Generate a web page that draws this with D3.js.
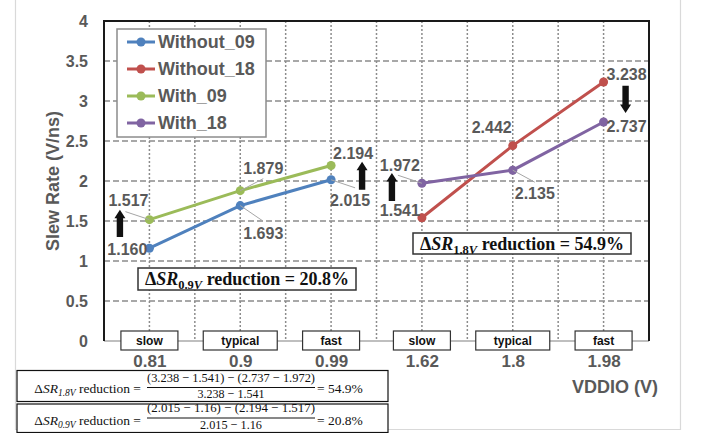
<!DOCTYPE html>
<html>
<head>
<meta charset="utf-8">
<script src="https://cdn.jsdelivr.net/npm/d3@7"></script>
<style>
  body { margin: 0; background: #fff; }
  svg { display: block; }
</style>
</head>
<body>
<svg id="chart" width="702" height="433"></svg>
<script>
// ---- data ----
const vddio = ["0.81", "0.9", "0.99", "1.62", "1.8", "1.98"];
const corners = ["slow", "typical", "fast", "slow", "typical", "fast"];
const yTicks = [0, 0.5, 1, 1.5, 2, 2.5, 3, 3.5, 4];
const supply09 = ["0.81", "0.9", "0.99"];
const supply18 = ["1.62", "1.8", "1.98"];
const without09 = [1.160, 1.693, 2.015];
const with09 = [1.517, 1.879, 2.194];
const without18 = [1.541, 2.442, 3.238];
const with18 = [1.972, 2.135, 2.737];
const seriesNames = ["Without_09", "Without_18", "With_09", "With_18"];

// ---- styling ----
const colors = {
  "Without_09": "#4F81BD",
  "Without_18": "#C0504D",
  "With_09": "#9BBB59",
  "With_18": "#8064A2"
};
// label placement around each point: offset, anchor, optional leader end
const labelPlacement = {
  "Without_09": [
    { dx: -2, dy: 1, anchor: "end" },
    { dx: 3, dy: 28, anchor: "start", leader: [22, 15] },
    { dx: -1, dy: 20, anchor: "start", leader: [24, 8] }
  ],
  "With_09": [
    { dx: -21, dy: -19, anchor: "middle", leader: [-24, -8] },
    { dx: 3, dy: -22, anchor: "start", leader: [23, -12] },
    { dx: 2, dy: -12, anchor: "start" }
  ],
  "Without_18": [
    { dx: -2, dy: -7, anchor: "end" },
    { dx: -1, dy: -18, anchor: "end" },
    { dx: 3, dy: -8, anchor: "start" }
  ],
  "With_18": [
    { dx: -2, dy: -18, anchor: "end", leader: [-24, -8] },
    { dx: 2, dy: 23, anchor: "start", leader: [22, 12] },
    { dx: 3, dy: 4, anchor: "start" }
  ]
};

const series = [
  { name: "Without_09", cats: supply09, values: without09 },
  { name: "Without_18", cats: supply18, values: without18 },
  { name: "With_09", cats: supply09, values: with09 },
  { name: "With_18", cats: supply18, values: with18 }
];

const svg = d3.select("#chart");
const plot = { left: 104, right: 649, top: 21, bottom: 341 };
const gray = "#595959";
const sans = "'Liberation Sans', Arial, sans-serif";
const serif = "'Liberation Serif', 'Times New Roman', serif";

const x = d3.scalePoint().domain(vddio).range([plot.left, plot.right]).padding(0.5);
const y = d3.scaleLinear().domain([0, 4]).range([plot.bottom, plot.top]);
const step = x.step();

// outer page border
svg.append("path")
  .attr("d", "M15.5,0 V429.5 H680.5 V0")
  .attr("fill", "none").attr("stroke", "#d9d9d9").attr("stroke-width", 1.2);

// ---- grid ----
const grid = svg.append("g");
grid.selectAll("line.h")
  .data(yTicks.filter(v => v > 0 && v < 4))
  .join("line")
  .attr("x1", plot.left).attr("x2", plot.right)
  .attr("y1", d => y(d)).attr("y2", d => y(d))
  .attr("stroke", "#8c8c8c").attr("stroke-width", 1.4)
  .attr("stroke-dasharray", "6,3");

const vLines = [];
vddio.forEach((c, i) => {
  vLines.push(x(c));
  if (i < vddio.length - 1) vLines.push(x(c) + step / 2);
});
grid.selectAll("line.v")
  .data(vLines)
  .join("line")
  .attr("x1", d => d).attr("x2", d => d)
  .attr("y1", plot.top).attr("y2", plot.bottom)
  .attr("stroke", "#8c8c8c").attr("stroke-width", 1.5)
  .attr("stroke-dasharray", "2,2");

// x baseline
svg.append("line")
  .attr("x1", plot.left).attr("x2", plot.right)
  .attr("y1", plot.bottom).attr("y2", plot.bottom)
  .attr("stroke", "#bfbfbf").attr("stroke-width", 2);

// frame
svg.append("path")
  .attr("d", `M${plot.left},${plot.bottom} V${plot.top} H${plot.right} V${plot.bottom}`)
  .attr("fill", "none").attr("stroke", "#1a1a1a").attr("stroke-width", 2);

// ---- axes ----
const yAxis = svg.append("g")
  .attr("transform", `translate(${plot.left},0)`)
  .call(d3.axisLeft(y).tickValues(yTicks).tickFormat(d3.format("~g")).tickSize(0).tickPadding(16));
yAxis.select(".domain").remove();
yAxis.selectAll("text")
  .attr("fill", gray).attr("font-family", sans).attr("font-weight", "bold").attr("font-size", 16);

const xAxis = svg.append("g")
  .attr("transform", `translate(0,${plot.bottom})`)
  .call(d3.axisBottom(x).tickSize(0).tickPadding(14));
xAxis.select(".domain").remove();
xAxis.selectAll("text")
  .attr("fill", gray).attr("font-family", sans).attr("font-weight", "bold").attr("font-size", 17);

svg.append("text")
  .attr("transform", `translate(59,${(plot.top + plot.bottom) / 2}) rotate(-90)`)
  .attr("text-anchor", "middle")
  .attr("fill", gray).attr("font-family", sans).attr("font-weight", "bold").attr("font-size", 18)
  .text("Slew Rate (V/ns)");

svg.append("text")
  .attr("x", 615).attr("y", 393)
  .attr("text-anchor", "middle")
  .attr("fill", gray).attr("font-family", sans).attr("font-weight", "bold").attr("font-size", 18)
  .text("VDDIO (V)");

// ---- series lines & markers ----
const line = d3.line().x(d => x(d.c)).y(d => y(d.v));
series.forEach(s => {
  const pts = s.values.map((v, i) => ({ c: s.cats[i], v }));
  const g = svg.append("g");
  g.append("path").datum(pts)
    .attr("d", line).attr("fill", "none")
    .attr("stroke", colors[s.name]).attr("stroke-width", 3);
  g.selectAll("circle").data(pts).join("circle")
    .attr("cx", d => x(d.c)).attr("cy", d => y(d.v)).attr("r", 4.5)
    .attr("fill", colors[s.name]);
});

// ---- data labels ----
const fmt3 = d3.format(".3f");
series.forEach(s => {
  s.values.forEach((v, i) => {
    const p = labelPlacement[s.name][i];
    const px = x(s.cats[i]), py = y(v);
    if (p.leader) {
      svg.append("line")
        .attr("x1", px).attr("y1", py)
        .attr("x2", px + p.leader[0]).attr("y2", py + p.leader[1])
        .attr("stroke", "#a6a6a6").attr("stroke-width", 1);
    }
    svg.append("text")
      .attr("x", px + p.dx).attr("y", py + p.dy)
      .attr("dy", "0.36em")
      .attr("text-anchor", p.anchor)
      .attr("fill", gray).attr("font-family", sans).attr("font-weight", "bold").attr("font-size", 16)
      .text(fmt3(v));
  });
});

// ---- arrows showing the change from Without to With ----
function arrow(cx, v0, v1) {
  const y0 = y(v0), y1 = y(v1);
  const dir = y1 < y0 ? -1 : 1;
  const head = 8.5, hw = 5.5, sw = 3.2;
  const yh = y1 - dir * head;
  const d = `M${cx - sw},${y0} L${cx - sw},${yh} L${cx - hw},${yh} L${cx},${y1} L${cx + hw},${yh} L${cx + sw},${yh} L${cx + sw},${y0} Z`;
  svg.append("path").attr("d", d).attr("fill", "#111");
}
arrow(x("0.81") - 29.5, 1.30, 1.64);
arrow(x("0.99") + 31, 1.89, 2.24);
arrow(x("1.62") - 30, 1.75, 2.10);
arrow(x("1.98") + 22, 3.19, 2.85);

// ---- corner boxes on the x axis ----
const cornerG = svg.append("g");
corners.forEach((c, i) => {
  const w = c === "typical" ? 74 : 57;
  cornerG.append("rect")
    .attr("x", x(vddio[i]) - w / 2).attr("y", plot.bottom - 10)
    .attr("width", w).attr("height", 19)
    .attr("fill", "#fff").attr("stroke", "#333").attr("stroke-width", 1.2);
  cornerG.append("text")
    .attr("x", x(vddio[i])).attr("y", plot.bottom)
    .attr("dy", "0.36em").attr("text-anchor", "middle")
    .attr("fill", "#111").attr("font-family", sans).attr("font-weight", "bold").attr("font-size", 12)
    .text(c);
});

// ---- legend ----
const legend = svg.append("g");
legend.append("rect")
  .attr("x", 117).attr("y", 29).attr("width", 149).attr("height", 108)
  .attr("fill", "#fff").attr("stroke", "#8c8c8c").attr("stroke-width", 1.5);
seriesNames.forEach((n, i) => {
  const ly = 42 + i * 27;
  legend.append("line")
    .attr("x1", 127).attr("x2", 155).attr("y1", ly).attr("y2", ly)
    .attr("stroke", colors[n]).attr("stroke-width", 3);
  legend.append("circle").attr("cx", 141).attr("cy", ly).attr("r", 4.5).attr("fill", colors[n]);
  legend.append("text")
    .attr("x", 158).attr("y", ly).attr("dy", "0.36em")
    .attr("fill", gray).attr("font-family", sans).attr("font-weight", "bold").attr("font-size", 18)
    .text(n);
});

// ---- reduction computations ----
const red18 = ((without18[2] - without18[0]) - (with18[2] - with18[0])) / (without18[2] - without18[0]);
const red09 = ((without09[2] - without09[0]) - (with09[2] - with09[0])) / (without09[2] - without09[0]);
const pct = d3.format(".1%");

function deltaLabel(cx, cy, sub, value, w, h) {
  svg.append("rect")
    .attr("x", cx - w / 2).attr("y", cy - h / 2).attr("width", w).attr("height", h)
    .attr("fill", "#fff").attr("stroke", "#333").attr("stroke-width", 1.5);
  const t = svg.append("text")
    .attr("x", cx).attr("y", cy).attr("dy", "0.35em")
    .attr("text-anchor", "middle")
    .attr("font-family", serif).attr("font-weight", "bold").attr("font-size", 18).attr("fill", "#111");
  t.append("tspan").text("Δ");
  t.append("tspan").attr("font-style", "italic").text("SR");
  t.append("tspan").attr("font-size", 12.5).attr("dy", 4).text(sub.slice(0, -1));
  t.append("tspan").attr("font-style", "italic").attr("font-size", 12.5).text(sub.slice(-1));
  t.append("tspan").attr("dy", -4).text(" reduction = " + value);
}
deltaLabel(247, 279, "0.9V", pct(red09), 218, 22);
deltaLabel(522, 243.5, "1.8V", pct(red18), 218, 21);

// ---- formula boxes ----
function formula(top, h, offs, sub, a, b, c, d, value) {
  const g = svg.append("g");
  g.append("rect").attr("x", 17).attr("y", top).attr("width", 371).attr("height", h)
    .attr("fill", "#fff");
  const fs = 13.5;
  const lhs = g.append("text")
    .attr("x", 141).attr("y", offs.lhs).attr("dy", "0.35em").attr("text-anchor", "end")
    .attr("font-family", serif).attr("font-size", fs).attr("fill", "#111");
  lhs.append("tspan").text("Δ");
  lhs.append("tspan").attr("font-style", "italic").text("SR");
  lhs.append("tspan").attr("font-style", "italic").attr("font-size", 9.5).attr("dy", 3).text(sub);
  lhs.append("tspan").attr("dy", -3).text(" reduction =");
  const fx = 231;
  const num = `(${a} − ${b}) − (${c} − ${d})`;
  const den = `${a} − ${b}`;
  g.append("text")
    .attr("x", fx).attr("y", offs.num).attr("dy", "0.35em").attr("text-anchor", "middle")
    .attr("font-family", serif).attr("font-size", fs).attr("fill", "#111")
    .attr("textLength", 168).attr("lengthAdjust", "spacingAndGlyphs")
    .text(num);
  g.append("line").attr("x1", 147).attr("x2", 315).attr("y1", offs.bar).attr("y2", offs.bar)
    .attr("stroke", "#111").attr("stroke-width", 1);
  g.append("text")
    .attr("x", fx).attr("y", offs.den).attr("dy", "0.35em").attr("text-anchor", "middle")
    .attr("font-family", serif).attr("font-size", fs).attr("fill", "#111")
    .attr("textLength", den.length > 12 ? 67 : 62).attr("lengthAdjust", "spacingAndGlyphs")
    .text(den);
  g.append("text")
    .attr("x", 317).attr("y", offs.lhs).attr("dy", "0.35em")
    .attr("font-family", serif).attr("font-size", fs).attr("fill", "#111")
    .text("= " + value);
  // border drawn last so it sits over the text
  g.append("rect").attr("x", 17).attr("y", top).attr("width", 371).attr("height", h)
    .attr("fill", "none").attr("stroke", "#111").attr("stroke-width", 1.2);
}
formula(370.5, 31, { lhs: 388, num: 377, bar: 387.5, den: 393.5 },
  "1.8V", without18[2], without18[0], with18[2], with18[0], pct(red18));
formula(404, 28.5, { lhs: 420, num: 407.5, bar: 418, den: 424.5 },
  "0.9V", without09[2], without09[0], with09[2], with09[0], pct(red09));
</script>
</body>
</html>
